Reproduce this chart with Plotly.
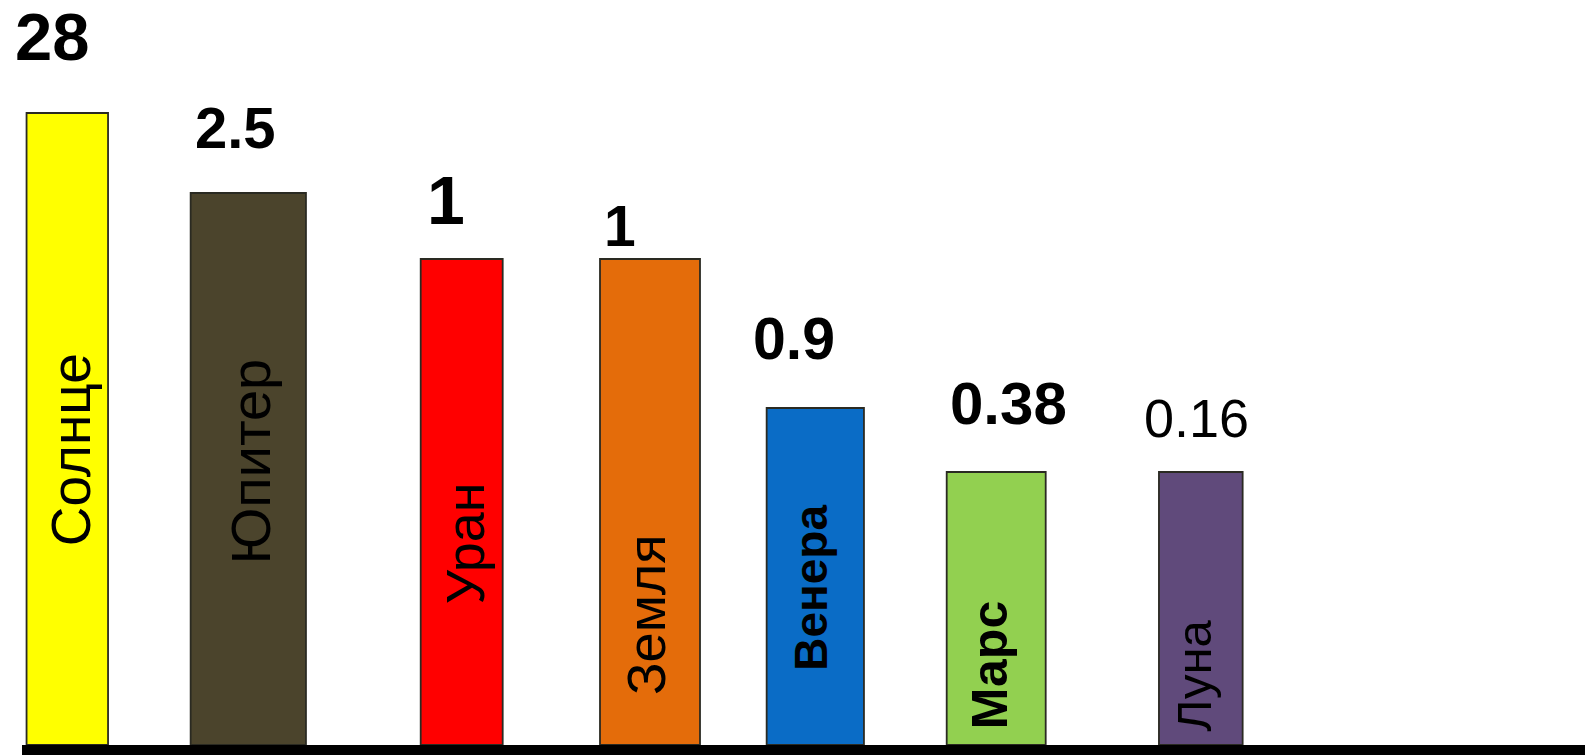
import plotly.graph_objects as go

# ---- data ----
bodies = ["Солнце", "Юпитер", "Уран", "Земля", "Венера", "Марс", "Луна"]
value_labels = ["28", "2.5", "1", "1", "0.9", "0.38", "0.16"]
# displayed bar heights as drawn in the picture (arbitrary units, not proportional to values)
bar_heights = [632, 552, 486, 486, 337, 273, 273]

# ---- layout / style (positions, sizes, colours) ----
bar_centers = [67.3, 248.3, 461.7, 650.0, 815.3, 996.2, 1200.8]
bar_widths = [81.5, 115.3, 82.0, 100.0, 97.3, 99.0, 83.7]
bar_colors = ["#ffff00", "#4b442c", "#ff0000", "#e46c0a", "#0a6cc6", "#92d050", "#604a7b"]

val_dx = [-15, -13, -16, -30, -21, 12, -4]
val_dy = [77, 66, 59.5, 33.5, 69, 68.5, 54]
val_size = [67, 58, 68, 57, 59, 60, 54]
val_bold = [True, True, True, True, True, True, False]

name_dx = [4, 2, 3, -4, -5, -6, -7]
name_y = [295, 284, 201.5, 130, 157.5, 80, 69]
name_size = [55, 56, 54, 54, 46, 50, 49]
name_bold = [False, False, False, False, True, True, False]

FONT = "Liberation Sans, Arial, sans-serif"

fig = go.Figure()
fig.add_trace(go.Bar(
    x=bar_centers, y=bar_heights, width=bar_widths,
    marker=dict(color=bar_colors, line=dict(color="#2a2a22", width=1.8)),
    hoverinfo="skip",
))

annotations = []
for i, b in enumerate(bodies):
    txt = value_labels[i]
    if val_bold[i]:
        txt = "<b>" + txt + "</b>"
    annotations.append(dict(
        x=bar_centers[i], y=bar_heights[i] + val_dy[i], xshift=val_dx[i],
        text=txt, showarrow=False, xanchor="center", yanchor="middle",
        font=dict(family=FONT, size=val_size[i], color="#000000"),
    ))
    ntxt = "<b>" + b + "</b>" if name_bold[i] else b
    annotations.append(dict(
        x=bar_centers[i], y=name_y[i], xshift=name_dx[i],
        text=ntxt, showarrow=False, textangle=-90,
        xanchor="center", yanchor="middle",
        font=dict(family=FONT, size=name_size[i], color="#000000"),
    ))

fig.update_layout(
    width=1590, height=755,
    margin=dict(l=0, r=0, t=0, b=0),
    paper_bgcolor="#ffffff", plot_bgcolor="#ffffff",
    showlegend=False,
    annotations=annotations,
    xaxis=dict(range=[0, 1590], visible=False, fixedrange=True),
    yaxis=dict(range=[-10, 745], visible=False, fixedrange=True),
    shapes=[dict(type="rect", xref="x", yref="y", x0=22, x1=1585, y0=-10, y1=0,
                 fillcolor="#000000", line=dict(width=0), layer="above")],
)

fig.write_html("out.html", config={"displayModeBar": False})
